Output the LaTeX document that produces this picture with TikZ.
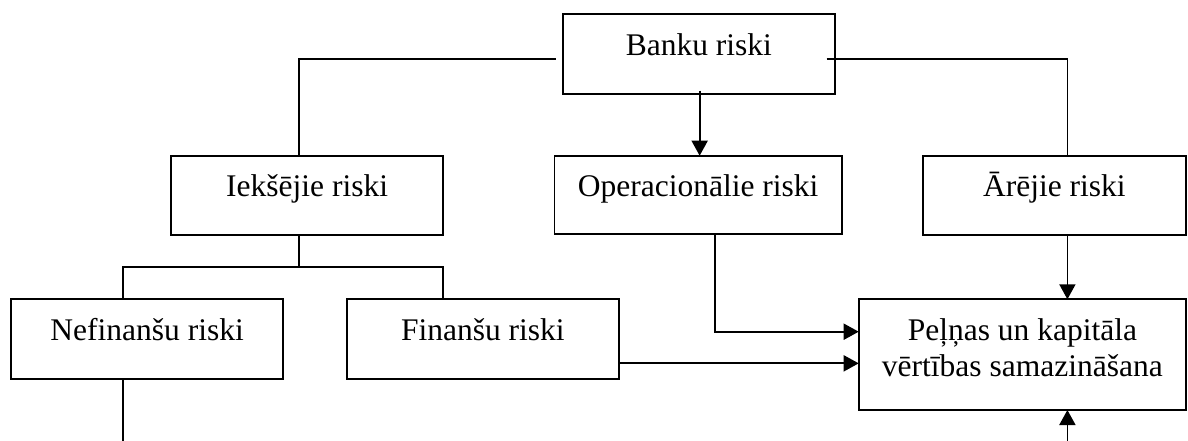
\documentclass[tikz,border=0pt]{standalone}
\usepackage{fontspec}
\setmainfont{Liberation Serif}
\usetikzlibrary{arrows.meta}
\tikzset{
  box/.style={draw, rectangle, anchor=north west, inner sep=0pt, outer sep=0pt,
    line width=1.8pt, text height=41pt, align=center},
  conn/.style={line width=1.8pt},
  arr/.style={line width=1.8pt, -{Triangle[length=15pt,width=16pt]}},
}
\begin{document}
\begin{tikzpicture}[x=1pt, y=-1pt, font=\fontsize{31.5}{36.5}\selectfont]
\useasboundingbox (0,0) rectangle (1188,441);

\node[box, minimum width=272.3pt, minimum height=80pt, text depth=39pt] (banku) at (562.7,14.3) {Banku riski};
\node[box, minimum width=272.3pt, minimum height=79.3pt, text depth=38.3pt] (iek) at (171,155.7) {Iekšējie riski};
\node[box, minimum width=287.2pt, minimum height=78.5pt, text depth=37.5pt] (oper) at (554.5,155.7) {Operacionālie riski};
\node[box, minimum width=263.2pt, minimum height=79.3pt, text depth=38.3pt] (arej) at (922.8,155.7) {Ārējie riski};
\node[box, minimum width=272.3pt, minimum height=79.7pt, text depth=38.7pt] (nef) at (11,299.3) {Nefinanšu riski};
\node[box, minimum width=271.7pt, minimum height=79.7pt, text depth=38.7pt] (fin) at (347,299.3) {Finanšu riski};
\node[box, minimum width=327.3pt, minimum height=110.7pt, text depth=69.7pt] (pel) at (858.7,299.3)
  {\begin{tabular}[t]{@{}c@{}}Peļņas un kapitāla\\vērtības samazināšana\end{tabular}};

% helper coordinates
\coordinate (bankL) at ([shift={(-7,45)}]banku.north west);
\coordinate (bankR) at ([shift={(-8.3,45)}]banku.north east);
\coordinate (iekin) at ([xshift=-8.5pt]iek.north);
\coordinate (arejin) at ([xshift=13pt]arej.north);
\coordinate (arejout) at ([xshift=13pt]arej.south);
\coordinate (bankout) at ([shift={(0.8,-3.6)}]banku.south);
\coordinate (iekout) at ([xshift=-8.2pt]iek.south);
\coordinate (nefin) at ([xshift=-24.2pt]nef.north);
\coordinate (nefout) at ([xshift=-24.2pt]nef.south);
\coordinate (finin) at (iek.east |- fin.north);
\coordinate (operout) at ([xshift=16.6pt]oper.south);
\coordinate (pelopin) at ([yshift=-32.4pt]pel.north west);
\coordinate (finout) at ([yshift=-24.2pt]fin.east);
\coordinate (nefend) at (nefout |- 0,441.5);
\coordinate (botin) at (arejout |- 0,441.5);

% connectors from Banku riski
\draw[conn] (bankL) -| (iekin);
\draw[conn] (bankR) -| (arejin);
\draw[arr] (bankout) -- (bankout |- oper.north);

% Iekšējie riski branches
\draw[conn] (iekout) -- ++(0,32.3);
\draw[conn] (nefin) |- ([yshift=32pt]finin) -- (finin);
\draw[conn] (nefout) -- (nefend);

% into Peļņas
\draw[arr] (operout) |- (pelopin);
\draw[arr] (finout) -- (finout -| pel.west);
\draw[arr] (arejout) -- (arejout |- pel.north);
\draw[arr] (botin) -- (botin |- pel.south);
\end{tikzpicture}
\end{document}
